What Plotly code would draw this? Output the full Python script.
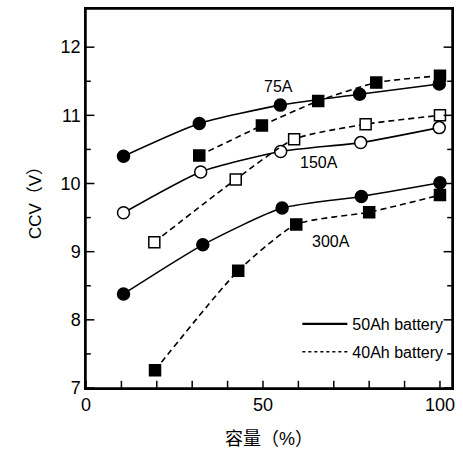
import plotly.graph_objects as go

# Capacity (%) and CCV (V) readings
x_50_75 = [10.6, 32, 54.9, 77.3, 99.8]
y_50_75 = [10.40, 10.88, 11.15, 11.31, 11.46]
x_40_75 = [32, 49.7, 65.6, 82, 100]
y_40_75 = [10.41, 10.85, 11.21, 11.48, 11.58]

x_50_150 = [10.6, 32.4, 55, 77.6, 99.8]
y_50_150 = [9.57, 10.17, 10.47, 10.60, 10.82]
x_40_150 = [19.3, 42.3, 58.8, 79, 100]
y_40_150 = [9.14, 10.06, 10.65, 10.87, 11.0]

x_50_300 = [10.6, 33, 55.4, 77.8, 100]
y_50_300 = [8.38, 9.10, 9.64, 9.81, 10.01]
x_40_300 = [19.5, 43, 59.4, 80, 100]
y_40_300 = [7.26, 8.72, 9.40, 9.58, 9.83]

curve_labels = ["75A", "150A", "300A"]
label_x = [54.3, 65.9, 69.3]
label_y = [11.43, 10.31, 9.15]

legend_names = ["50Ah battery", "40Ah battery"]

x_tickvals = [0, 10, 20, 30, 40, 50, 60, 70, 80, 90, 100]
x_ticktext = ["0", "", "", "", "", "50", "", "", "", "", "100"]
y_tickvals = [7, 7.5, 8, 8.5, 9, 9.5, 10, 10.5, 11, 11.5, 12]
y_ticktext = ["7", "", "8", "", "9", "", "10", "", "11", "", "12"]

X_RANGE = [0, 103.4]
Y_RANGE = [7, 12.56]

FONT = "Liberation Sans, Arial, Noto Sans CJK SC"
fig = go.Figure()

def add(xs, ys, dashed, filled, symbol):
    fig.add_trace(go.Scatter(
        x=xs, y=ys, mode="lines+markers",
        line=dict(color="black", width=1.6, dash="6px,4px" if dashed else "solid",
                  shape="spline", smoothing=0.6),
        marker=dict(symbol=symbol, size=12 if symbol == "circle" else 11,
                    color="black" if filled else "white",
                    line=dict(color="black", width=1.5)),
        showlegend=False, cliponaxis=False))

add(x_50_75, y_50_75, False, True, "circle")
add(x_40_75, y_40_75, True, True, "square")
add(x_50_150, y_50_150, False, False, "circle")
add(x_40_150, y_40_150, True, False, "square")
add(x_50_300, y_50_300, False, True, "circle")
add(x_40_300, y_40_300, True, True, "square")

fig.add_trace(go.Scatter(x=[None], y=[None], mode="lines", name=legend_names[0],
                         legendgroup="a", line=dict(color="black", width=2.2)))
fig.add_trace(go.Scatter(x=[None], y=[None], mode="lines", name=legend_names[1],
                         legendgroup="b", line=dict(color="black", width=1.5, dash="3px,3px")))

for t, lx, ly in zip(curve_labels, label_x, label_y):
    fig.add_annotation(x=lx, y=ly, text=t, showarrow=False,
                       font=dict(size=16, color="black", family=FONT))

# frame
fig.add_shape(type="rect", xref="paper", yref="paper", x0=0, y0=0, x1=1, y1=1,
              line=dict(color="black", width=1.5), layer="above")

# inside tick marks drawn as line-shaped markers at the tick positions
xpx = (X_RANGE[1] - X_RANGE[0]) / 366.0   # data units per pixel
ypx = (Y_RANGE[1] - Y_RANGE[0]) / 379.0
fig.add_trace(go.Scatter(
    x=x_tickvals, y=[Y_RANGE[0] + 3 * ypx] * len(x_tickvals), mode="markers",
    marker=dict(symbol="line-ns-open", size=6, color="black",
                line=dict(color="black", width=1.5)),
    showlegend=False, hoverinfo="skip", cliponaxis=False))
ymaj = [v for v, t in zip(y_tickvals, y_ticktext) if t]
ymin = [v for v, t in zip(y_tickvals, y_ticktext) if not t]
for xs, vals, sz in [(X_RANGE[0] + 3.5 * xpx, ymaj, 7), (X_RANGE[0] + 2 * xpx, ymin, 4),
                     (X_RANGE[1] - 3.5 * xpx, ymaj, 7), (X_RANGE[1] - 2 * xpx, ymin, 4)]:
    fig.add_trace(go.Scatter(
        x=[xs] * len(vals), y=vals, mode="markers",
        marker=dict(symbol="line-ew-open", size=sz, color="black",
                    line=dict(color="black", width=1.5)),
        showlegend=False, hoverinfo="skip", cliponaxis=False))

fig.update_xaxes(range=X_RANGE, tickvals=x_tickvals, ticktext=x_ticktext,
                 showline=True, linecolor="black", linewidth=1.5, mirror=True,
                 ticks="", showgrid=False, zeroline=False, automargin=False,
                 tickfont=dict(size=18, color="black", family=FONT),
                 title=dict(text="容量（%）", font=dict(size=18, color="black", family=FONT),
                            standoff=18))
fig.update_yaxes(range=Y_RANGE, tickvals=y_tickvals, ticktext=y_ticktext,
                 showline=True, linecolor="black", linewidth=1.5, mirror=True,
                 ticks="", showgrid=False, zeroline=False, automargin=False,
                 tickfont=dict(size=18, color="black", family=FONT),
                 title=dict(text="CCV（V）", font=dict(size=17, color="black", family=FONT),
                            standoff=15))

fig.update_layout(
    width=463, height=454,
    margin=dict(l=86, r=11, t=9, b=66, autoexpand=False),
    paper_bgcolor="white", plot_bgcolor="white",
    legend=dict(x=0.99, y=0.05, xanchor="right", yanchor="bottom",
                bgcolor="rgba(0,0,0,0)", font=dict(size=16, color="black", family=FONT),
                itemwidth=45, tracegroupgap=4),
)

fig.write_html("out.html", config={"displayModeBar": False},
               post_script="document.body.style.margin='0';")
